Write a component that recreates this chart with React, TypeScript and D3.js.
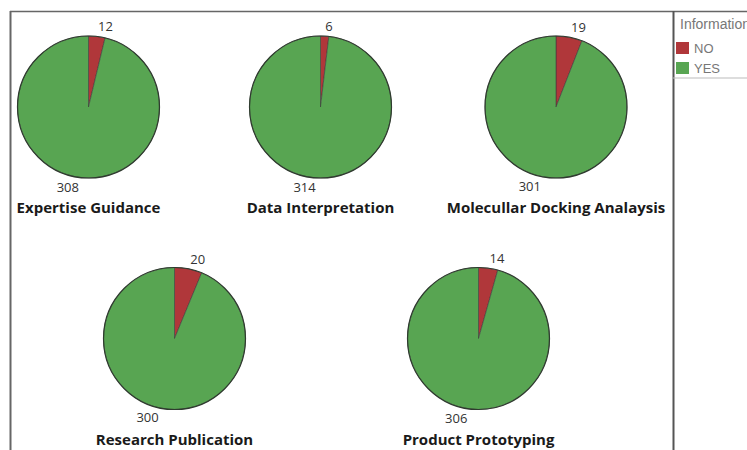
import React, { useEffect, useRef } from "react";
import * as d3 from "d3";

// Survey answers per research service
const services = [
  "Expertise Guidance",
  "Data Interpretation",
  "Molecullar Docking Analaysis",
  "Research Publication",
  "Product Prototyping",
];
const noCounts = [12, 6, 19, 20, 14];
const yesCounts = [308, 314, 301, 300, 306];
const answers = ["NO", "YES"];
const answerColors = ["#b0373a", "#58a552"];
const legendTitle = "Information";

const W = 747;
const H = 450;

export default function App() {
  const ref = useRef<SVGSVGElement | null>(null);

  useEffect(() => {
    const svg = d3.select(ref.current);
    svg.selectAll("*").remove();

    // frame of the plotting area
    svg.append("line").attr("x1", 10).attr("x2", W).attr("y1", 11.5).attr("y2", 11.5)
      .attr("stroke", "#666").attr("stroke-width", 1.5);
    svg.append("line").attr("x1", 10.5).attr("x2", 10.5).attr("y1", 11).attr("y2", H)
      .attr("stroke", "#666").attr("stroke-width", 2);
    svg.append("line").attr("x1", 673.5).attr("x2", 673.5).attr("y1", 11).attr("y2", H)
      .attr("stroke", "#555").attr("stroke-width", 2);

    // grid of pie cells: row 1 holds three, row 2 holds two
    const rowY = [107, 338.5];
    const rowX = [
      [88.5, 320.5, 556],
      [174.5, 478.5],
    ];
    const cells: { cx: number; cy: number }[] = [];
    rowX.forEach((xs, r) => xs.forEach((x) => cells.push({ cx: x, cy: rowY[r] })));

    const radius = 71;
    const color = d3.scaleOrdinal<string, string>().domain(answers).range(answerColors);
    const pie = d3.pie<{ key: string; value: number }>().sort(null).value((d) => d.value);
    const arc = d3.arc<d3.PieArcDatum<{ key: string; value: number }>>()
      .innerRadius(0).outerRadius(radius);

    services.forEach((name, i) => {
      const { cx, cy } = cells[i];
      const g = svg.append("g").attr("transform", `translate(${cx},${cy})`);
      const data = [
        { key: answers[0], value: noCounts[i] },
        { key: answers[1], value: yesCounts[i] },
      ];
      const arcs = pie(data);
      g.selectAll("path.slice").data(arcs).enter().append("path")
        .attr("class", "slice")
        .attr("d", arc as any)
        .attr("fill", (d) => color(d.data.key))
        .attr("stroke", "#3a3a3a")
        .attr("stroke-opacity", 0.55)
        .attr("stroke-width", 1);
      g.append("circle").attr("r", radius).attr("fill", "none")
        .attr("stroke", "#2f3b2f").attr("stroke-width", 1.2);

      const lr = radius + 10;
      g.selectAll("text.val").data(arcs).enter().append("text")
        .attr("class", "val")
        .attr("x", (d) => lr * Math.sin((d.startAngle + d.endAngle) / 2))
        .attr("y", (d) => -lr * Math.cos((d.startAngle + d.endAngle) / 2))
        .attr("dy", "0.35em")
        .attr("text-anchor", (d) => (Math.sin((d.startAngle + d.endAngle) / 2) >= 0 ? "start" : "end"))
        .attr("font-family", "'Open Sans', sans-serif")
        .attr("font-size", 13)
        .attr("fill", "#333")
        .text((d) => String(d.data.value));

      g.append("text")
        .attr("x", 0)
        .attr("y", radius + 30)
        .attr("dy", "0.35em")
        .attr("text-anchor", "middle")
        .attr("font-family", "'Open Sans', sans-serif")
        .attr("font-weight", 700)
        .attr("font-size", 15)
        .attr("fill", "#1a1a1a")
        .text(name);
    });

    // legend box
    const lg = svg.append("g");
    lg.append("line").attr("x1", 673).attr("x2", W).attr("y1", 78).attr("y2", 78)
      .attr("stroke", "#bbb").attr("stroke-width", 1.2);
    lg.append("text").attr("x", 680).attr("y", 24).attr("dy", "0.35em")
      .attr("font-family", "'Liberation Sans', Arial, sans-serif").attr("font-size", 14)
      .attr("fill", "#777").text(legendTitle);
    answers.forEach((a, i) => {
      const y = 42 + i * 20;
      lg.append("rect").attr("x", 676).attr("y", y).attr("width", 13).attr("height", 12)
        .attr("fill", color(a));
      lg.append("text").attr("x", 694).attr("y", y + 6.5).attr("dy", "0.35em")
        .attr("font-family", "'Liberation Sans', Arial, sans-serif").attr("font-size", 13)
        .attr("fill", "#777").text(a);
    });
  }, []);

  return (
    <svg
      ref={ref}
      width={W}
      height={H}
      style={{ position: "absolute", left: 0, top: 0, background: "#fff" }}
    />
  );
}
